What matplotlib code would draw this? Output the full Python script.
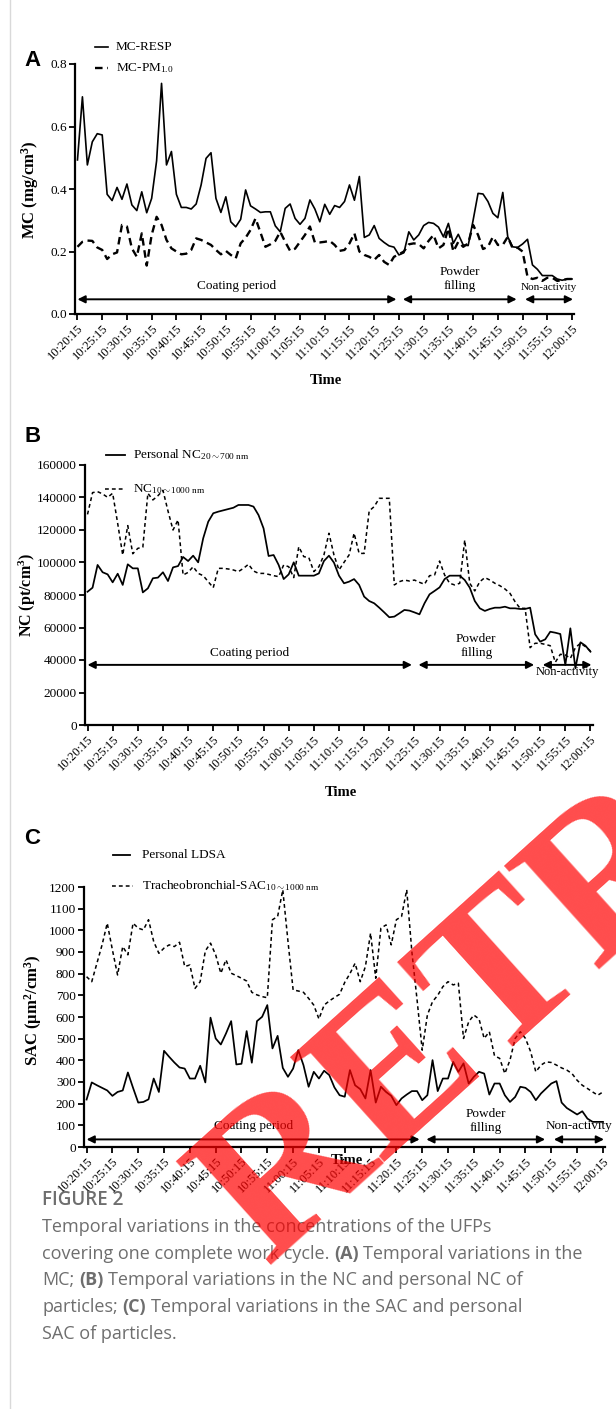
import numpy as np
import matplotlib
matplotlib.use("Agg")
import matplotlib.pyplot as plt
from matplotlib.lines import Line2D

plt.rcParams.update({
    'font.family': 'serif',
    'font.serif': ['Liberation Serif', 'DejaVu Serif'],
    'mathtext.fontset': 'custom',
    'mathtext.rm': 'Liberation Serif',
    'mathtext.it': 'Liberation Serif:italic',
    'mathtext.bf': 'Liberation Serif:bold',
})

# %%
# data (one reading per minute, 10:20:15 -> 12:00:15)
tick_labels = ['10:20:15', '10:25:15', '10:30:15', '10:35:15', '10:40:15',
               '10:45:15', '10:50:15', '10:55:15', '11:00:15', '11:05:15',
               '11:10:15', '11:15:15', '11:20:15', '11:25:15', '11:30:15',
               '11:35:15', '11:40:15', '11:45:15', '11:50:15', '11:55:15',
               '12:00:15']

mc_resp = [0.493, 0.695, 0.477, 0.551, 0.577, 0.573, 0.383, 0.363, 0.405, 0.367,
           0.416, 0.349, 0.331, 0.391, 0.324, 0.370, 0.490, 0.738, 0.477, 0.520,
           0.383, 0.341, 0.341, 0.336, 0.352, 0.413, 0.498, 0.516, 0.370, 0.325,
           0.375, 0.295, 0.279, 0.303, 0.397, 0.346, 0.336, 0.325, 0.327, 0.327,
           0.282, 0.263, 0.338, 0.352, 0.306, 0.287, 0.306, 0.365, 0.336, 0.295,
           0.351, 0.319, 0.347, 0.341, 0.360, 0.413, 0.364, 0.440, 0.245, 0.253,
           0.283, 0.242, 0.229, 0.218, 0.214, 0.189, 0.196, 0.263, 0.237, 0.253,
           0.283, 0.293, 0.290, 0.278, 0.247, 0.290, 0.226, 0.255, 0.221, 0.219,
           0.300, 0.386, 0.384, 0.360, 0.322, 0.308, 0.389, 0.247, 0.215, 0.213,
           0.224, 0.239, 0.157, 0.143, 0.123, 0.123, 0.123, 0.112, 0.108, 0.112,
           0.112]
mc_pm1 = [0.215, 0.231, 0.235, 0.234, 0.213, 0.205, 0.176, 0.191, 0.197, 0.285,
          0.280, 0.210, 0.183, 0.258, 0.155, 0.253, 0.311, 0.285, 0.237, 0.210,
          0.200, 0.191, 0.193, 0.205, 0.242, 0.237, 0.229, 0.221, 0.205, 0.191,
          0.202, 0.189, 0.178, 0.226, 0.244, 0.269, 0.306, 0.261, 0.215, 0.223,
          0.234, 0.263, 0.231, 0.202, 0.209, 0.231, 0.253, 0.280, 0.229, 0.229,
          0.231, 0.234, 0.221, 0.202, 0.205, 0.226, 0.258, 0.200, 0.189, 0.183,
          0.173, 0.189, 0.167, 0.157, 0.183, 0.191, 0.200, 0.223, 0.226, 0.224,
          0.210, 0.234, 0.253, 0.210, 0.221, 0.274, 0.200, 0.231, 0.215, 0.226,
          0.285, 0.253, 0.208, 0.215, 0.247, 0.221, 0.221, 0.247, 0.210, 0.212,
          0.200, 0.119, 0.112, 0.116, 0.106, 0.116, 0.116, 0.106, 0.108, 0.112,
          0.112]

nc_personal = [82000, 84500, 98500, 94000, 92700, 87800, 93100, 86200, 98900, 96400,
               96400, 81600, 84100, 90300, 90700, 94000, 88600, 97000, 97800, 103400,
               100900, 104200, 100100, 114900, 125100, 130300, 131300, 132100, 132900, 133700,
               135400, 135400, 135400, 134400, 129200, 121000, 104000, 104600, 98500, 89800,
               92700, 100100, 91900, 91900, 91900, 91900, 93300, 100900, 104200, 99900,
               91900, 87200, 88200, 89800, 86200, 79000, 76300, 74900, 72200, 69300,
               66300, 66700, 68700, 70800, 70400, 69300, 68100, 74900, 80400, 82500,
               84700, 89800, 91900, 91900, 91900, 89200, 84500, 76300, 71800, 70200,
               71400, 72200, 72200, 72800, 71800, 71800, 71400, 71400, 72200, 55800,
               51300, 52700, 57400, 56800, 56000, 36900, 59500, 34900, 50900, 48800,
               45100]
nc_total = [129600, 143000, 143600, 142200, 140100, 142600, 124000, 104600, 122700, 105400,
            108700, 109500, 142600, 138500, 141100, 144400, 131700, 120000, 126200, 92300,
            93900, 97400, 93300, 91900, 88200, 84500, 96400, 96400, 96000, 95400,
            94400, 96400, 98900, 94800, 93300, 93300, 92700, 91900, 91300, 98500,
            97400, 90700, 109700, 103600, 103000, 94400, 97400, 104600, 118000, 104600,
            95400, 100100, 104600, 118000, 105600, 105600, 131700, 134400, 139500, 139500,
            139500, 86200, 88200, 89200, 88600, 89200, 87800, 86600, 91900, 92300,
            100900, 92300, 87200, 86200, 87200, 113800, 87200, 82500, 88200, 90700,
            89200, 87200, 85700, 83700, 81000, 75900, 71800, 71800, 47600, 50300,
            50300, 49600, 48800, 38600, 43500, 43100, 41000, 47600, 50300, 48200,
            45500]

sac_ldsa = [219, 298, 285, 273, 261, 236, 254, 261, 344, 273,
            205, 208, 220, 316, 254, 444, 416, 390, 367, 362,
            316, 316, 375, 298, 597, 501, 473, 524, 581, 381,
            384, 535, 389, 581, 601, 655, 455, 513, 365, 324,
            362, 447, 378, 278, 347, 316, 352, 332, 275, 239,
            232, 355, 285, 267, 224, 355, 205, 278, 254, 236,
            193, 224, 242, 258, 258, 216, 239, 401, 258, 316,
            316, 393, 347, 386, 293, 324, 347, 339, 242, 293,
            293, 239, 208, 231, 278, 273, 254, 216, 247, 270,
            293, 304, 205, 180, 165, 150, 165, 131, 116, 116,
            116]
sac_tb = [786, 763, 848, 933, 1033, 910, 794, 925, 887, 1033,
          1010, 1002, 1049, 948, 894, 918, 933, 925, 945, 833,
          840, 732, 763, 905, 941, 887, 802, 864, 802, 791,
          779, 766, 714, 702, 694, 689, 1049, 1064, 1187, 950,
          725, 720, 714, 686, 655, 591, 655, 674, 690, 705,
          760, 800, 848, 763, 833, 987, 779, 1010, 1025, 933,
          1049, 1064, 1187, 900, 680, 447, 609, 671, 700, 740,
          763, 748, 756, 501, 578, 609, 591, 501, 532, 421,
          409, 339, 401, 501, 532, 501, 440, 347, 378, 393,
          390, 378, 365, 355, 339, 308, 285, 270, 254, 239,
          254]

# work phases: (label, start, end) in minutes from 10:20:15
phases = [('Coating period', 0, 64.5), ('Powder\nfilling', 65.8, 88.8),
          ('Non-activity', 90.5, 100.2)]

# %%
W, H = 616, 1409
fig = plt.figure(figsize=(W / 100, H / 100), dpi=100)
renderer = fig.canvas.get_renderer()


def fx(px):
    return px / W


def fy(py):
    return 1 - py / H


def make_axes(left, top, right, bottom):
    ax = fig.add_axes([fx(left), fy(bottom), fx(right) - fx(left), (bottom - top) / H])
    ax.spines['top'].set_visible(False)
    ax.spines['right'].set_visible(False)
    ax.spines['left'].set_linewidth(1.6)
    ax.spines['bottom'].set_linewidth(1.6)
    ax.tick_params(direction='out', length=4, width=1.3, labelsize=9.5, pad=2)
    ax.set_xticks(range(0, 101, 5))
    ax.set_xticklabels(tick_labels, rotation=45, ha='right',
                       rotation_mode='anchor', fontsize=9)
    return ax


def legend_line(x0, x1, y, dashes, lw, text, tx, size=9.5):
    ln = Line2D([fx(x0), fx(x1)], [fy(y), fy(y)], color='k', lw=lw,
                transform=fig.transFigure)
    if dashes:
        ln.set_dashes(dashes)
    fig.add_artist(ln)
    fig.text(fx(tx), fy(y), text, fontsize=size, va='center', ha='left')


def phase_arrows(ax, y_arrow, y_texts, sizes):
    for (label, x0, x1), yt, fs in zip(phases, y_texts, sizes):
        ax.annotate('', xy=(x1, y_arrow), xytext=(x0, y_arrow),
                    arrowprops=dict(arrowstyle='<|-|>', color='k', lw=1.4,
                                    mutation_scale=11, shrinkA=0, shrinkB=0))
        ax.text((x0 + x1) / 2, yt, label, ha='center', va='bottom',
                fontsize=fs, linespacing=1.2)


def rich_line(px, py, parts, **kw):
    # draw bold / normal pieces one after another on the same line
    x = fx(px)
    probe = fig.text(0, 0, 'a a', **kw)
    w2 = probe.get_window_extent(renderer).width
    probe.set_text('aa')
    space = w2 - probe.get_window_extent(renderer).width
    probe.remove()
    for txt, bold in parts:
        t = fig.text(x, fy(py), txt, fontweight='bold' if bold else 'normal',
                     va='center', **kw)
        x += (t.get_window_extent(renderer).width + space) / W


x = np.arange(len(mc_resp))

# %%
# panel A
axA = make_axes(75, 64, 574, 314)
axA.plot(x, mc_resp, color='k', lw=1.2)
axA.plot(x, mc_pm1, color='k', lw=1.7, dashes=(3.2, 2))
axA.set_xlim(-0.5, 100.4)
axA.set_ylim(0, 0.8)
axA.set_yticks([0, 0.2, 0.4, 0.6, 0.8])
axA.set_yticklabels(['0.0', '0.2', '0.4', '0.6', '0.8'])
phase_arrows(axA, 0.047, [0.07, 0.07, 0.07], [9.5, 9.5, 8])
legend_line(95, 108, 47, None, 1.2, 'MC-RESP', 116)
legend_line(95, 108, 68, (3.2, 2), 1.7, r'MC-PM$_{\mathrm{1.0}}$', 116)
fig.text(fx(30), fy(190), r'$\mathbf{MC\ (mg/cm^3)}$', rotation=90,
         ha='center', va='center', fontsize=12)
fig.text(fx(326), fy(381), 'Time', fontweight='bold', ha='center',
         va='center', fontsize=10.5)
fig.text(fx(24), fy(60), 'A', family='Liberation Sans', fontweight='bold',
         fontsize=16, ha='left', va='center')

# panel B
axB = make_axes(85, 465, 593, 725)
axB.plot(x, nc_personal, color='k', lw=1.25)
axB.plot(x, nc_total, color='k', lw=1.1, dashes=(2.5, 2))
axB.set_xlim(-0.5, 100.5)
axB.set_ylim(0, 160000)
axB.set_yticks(range(0, 160001, 20000))
phase_arrows(axB, 37000, [40500, 40500, 29000], [9.5, 9.5, 9])
legend_line(106, 125, 455, None, 1.3, r'Personal NC$_{\mathrm{20{\sim}700\ nm}}$', 133)
legend_line(105, 125, 489, (2.5, 2), 1.1, r'NC$_{\mathrm{10{\sim}1000\ nm}}$', 133)
fig.text(fx(27), fy(595), r'$\mathbf{NC\ (pt/cm^3)}$', rotation=90,
         ha='center', va='center', fontsize=11.5)
fig.text(fx(341), fy(793), 'Time', fontweight='bold', ha='center',
         va='center', fontsize=10.5)
fig.text(fx(24), fy(437), 'B', family='Liberation Sans', fontweight='bold',
         fontsize=16, ha='left', va='center')

# panel C
axC = make_axes(84, 887, 605, 1147)
axC.plot(x, sac_ldsa, color='k', lw=1.25)
axC.plot(x, sac_tb, color='k', lw=1.1, dashes=(2.5, 2))
axC.set_xlim(-0.5, 100.4)
axC.set_ylim(0, 1200)
axC.set_yticks(range(0, 1201, 100))
phase_arrows(axC, 35, [70, 60, 70], [9.5, 9.5, 9.5])
legend_line(113, 130, 855, None, 1.3, 'Personal LDSA', 142)
legend_line(112, 133, 886, (2.5, 2), 1.1,
            r'Tracheobronchial-SAC$_{\mathrm{10{\sim}1000\ nm}}$', 142)
fig.text(fx(33), fy(1010), r'$\mathbf{SAC\ (\mu m^2/cm^3)}$', rotation=90,
         ha='center', va='center', fontsize=12)
fig.text(fx(347), fy(1160), 'Time', fontweight='bold', ha='center',
         va='center', fontsize=10.5)
fig.text(fx(24), fy(838), 'C', family='Liberation Sans', fontweight='bold',
         fontsize=16, ha='left', va='center')

# %%
# caption
cap = dict(family='Open Sans', fontsize=13.0, color='#6e6e6e')
fig.text(fx(42), fy(1200), 'FIGURE 2', family='Open Sans', fontweight='semibold',
         fontsize=13.5, color='#6e6e6e', va='center')
caption = [[('Temporal variations in the concentrations of the UFPs', False)],
           [('covering one complete work cycle.', False), ('(A)', True),
            ('Temporal variations in the', False)],
           [('MC;', False), ('(B)', True),
            ('Temporal variations in the NC and personal NC of', False)],
           [('particles;', False), ('(C)', True),
            ('Temporal variations in the SAC and personal', False)],
           [('SAC of particles.', False)]]
for i, parts in enumerate(caption):
    rich_line(42, 1227 + 26.7 * i, parts, **cap)

# page border
fig.add_artist(Line2D([fx(10), fx(10)], [0, 1], color='#d9d9d9', lw=1,
                      transform=fig.transFigure))

# retraction watermark
fig.text(fx(266), fy(1266), 'RETRACTED', family='Liberation Serif',
         fontweight='bold', fontsize=155, color='red', alpha=0.7,
         rotation=42, rotation_mode='anchor', ha='left', va='baseline',
         zorder=10)

fig.savefig('out.png', dpi=100, facecolor='white')
